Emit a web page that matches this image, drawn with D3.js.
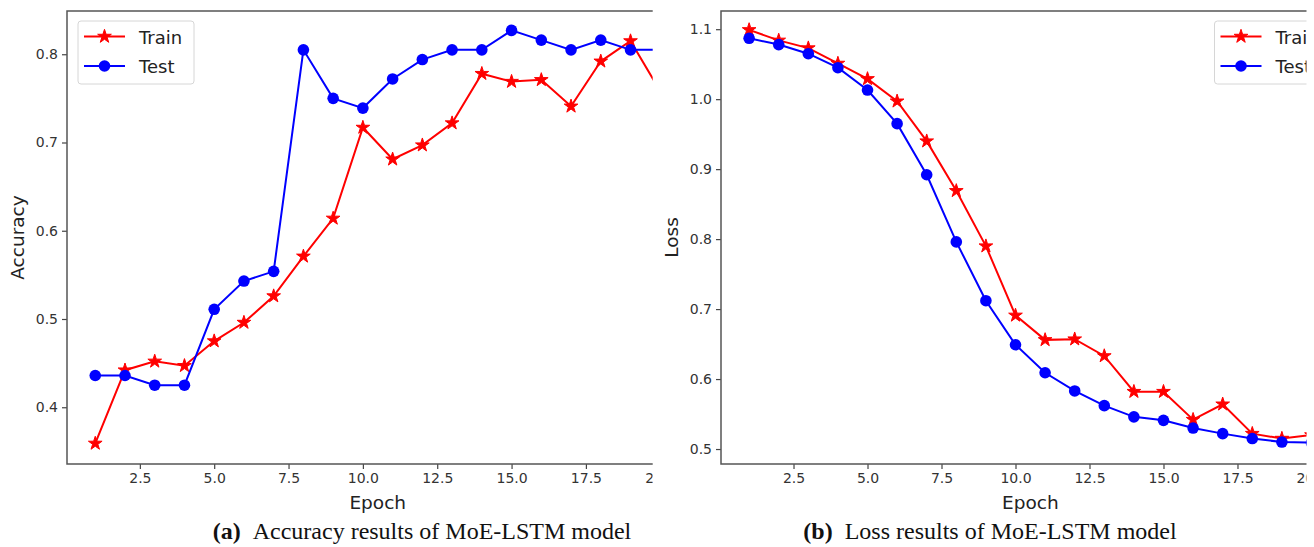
<!DOCTYPE html>
<html>
<head>
<meta charset="utf-8">
<script src="https://cdn.jsdelivr.net/npm/d3@7"></script>
<style>
  body { margin: 0; background: #fff; }
  svg { display: block; }
  .tick text { font-family: "DejaVu Sans", sans-serif; font-size: 14px; fill: #333; }
  .axisLabel { font-family: "DejaVu Sans", sans-serif; font-size: 18.5px; fill: #222; }
  .legendText { font-family: "DejaVu Sans", sans-serif; font-size: 18px; fill: #222; }
  .caption { font-family: "Liberation Serif", "Times New Roman", serif; font-size: 24px; fill: #111; }
</style>
</head>
<body>
<div id="chart"></div>
<script>
var svgWidth = 1314;
var svgHeight = 547;

// data
var epochs = [1, 2, 3, 4, 5, 6, 7, 8, 9, 10, 11, 12, 13, 14, 15, 16, 17, 18, 19, 20];
var accTrain = [0.359, 0.442, 0.452, 0.447, 0.475, 0.496, 0.526, 0.571, 0.614, 0.717,
                0.681, 0.697, 0.722, 0.778, 0.769, 0.771, 0.741, 0.792, 0.815, 0.758];
var accTest = [0.436, 0.436, 0.425, 0.425, 0.511, 0.543, 0.554, 0.805, 0.750, 0.739,
               0.772, 0.794, 0.805, 0.805, 0.827, 0.816, 0.805, 0.816, 0.805, 0.805];
var lossTrain = [1.099, 1.084, 1.073, 1.051, 1.029, 0.997, 0.940, 0.869, 0.790, 0.691,
                 0.656, 0.657, 0.633, 0.582, 0.582, 0.542, 0.564, 0.522, 0.515, 0.520];
var lossTest = [1.087, 1.078, 1.065, 1.045, 1.013, 0.965, 0.892, 0.796, 0.712, 0.649,
                0.609, 0.583, 0.562, 0.546, 0.541, 0.530, 0.522, 0.515, 0.510, 0.509];

var xTicks = [2.5, 5, 7.5, 10, 12.5, 15, 17.5, 20];
var accTicks = [0.4, 0.5, 0.6, 0.7, 0.8];
var lossTicks = [0.5, 0.6, 0.7, 0.8, 0.9, 1.0, 1.1];
var seriesNames = ["Train", "Test"];

var svg = d3.select("#chart")
    .append("svg")
    .attr("width", svgWidth)
    .attr("height", svgHeight);

var defs = svg.append("defs");

function drawPanel(cfg) {
    // each sub-figure is a cropped screenshot, so clip on the right
    defs.append("clipPath")
        .attr("id", cfg.id)
        .append("rect")
        .attr("x", 0).attr("y", 0)
        .attr("width", cfg.clipRight).attr("height", svgHeight);

    var g = svg.append("g").attr("clip-path", `url(#${cfg.id})`);

    var x = d3.scaleLinear()
        .domain([0.05, 20.95])
        .range([cfg.left, cfg.right]);
    var y = d3.scaleLinear()
        .domain(cfg.yDomain)
        .range([cfg.bottom, cfg.top]);

    // axes
    var xAxis = g.append("g")
        .attr("transform", `translate(0, ${cfg.bottom})`)
        .call(d3.axisBottom(x).tickValues(xTicks).tickFormat(d3.format(".1f")).tickSize(5).tickPadding(4).tickSizeOuter(0));
    var yAxis = g.append("g")
        .attr("transform", `translate(${cfg.left}, 0)`)
        .call(d3.axisLeft(y).tickValues(cfg.yTicks).tickFormat(d3.format(".1f")).tickSize(5).tickPadding(4).tickSizeOuter(0));
    [xAxis, yAxis].forEach(a => {
        a.select(".domain").remove();
        a.selectAll(".tick line").attr("stroke", "#444").attr("stroke-width", 1.2);
    });

    // frame
    g.append("rect")
        .attr("x", cfg.left).attr("y", cfg.top)
        .attr("width", cfg.right - cfg.left).attr("height", cfg.bottom - cfg.top)
        .attr("fill", "none").attr("stroke", "#555").attr("stroke-width", 1.5);

    var line = d3.line()
        .x((d, i) => x(epochs[i]))
        .y(d => y(d));

    var starSym = d3.symbol().type(d3.symbolStar).size(58);

    // train
    g.append("path")
        .datum(cfg.train)
        .attr("d", line)
        .attr("fill", "none").attr("stroke", "red").attr("stroke-width", 2);
    g.selectAll(".star")
        .data(cfg.train)
        .enter()
        .append("path")
        .attr("class", "star")
        .attr("transform", (d, i) => `translate(${x(epochs[i])}, ${y(d)})`)
        .attr("d", starSym)
        .attr("fill", "red").attr("stroke", "red").attr("stroke-width", 1);

    // test
    g.append("path")
        .datum(cfg.test)
        .attr("d", line)
        .attr("fill", "none").attr("stroke", "blue").attr("stroke-width", 2);
    g.selectAll(".dot")
        .data(cfg.test)
        .enter()
        .append("circle")
        .attr("class", "dot")
        .attr("cx", (d, i) => x(epochs[i]))
        .attr("cy", d => y(d))
        .attr("r", 5.8)
        .attr("fill", "blue");

    // labels
    g.append("text")
        .attr("class", "axisLabel")
        .attr("text-anchor", "middle")
        .attr("x", cfg.left + (cfg.right - cfg.left) / 2)
        .attr("y", 509)
        .text("Epoch");
    g.append("text")
        .attr("class", "axisLabel")
        .attr("text-anchor", "middle")
        .attr("transform", `translate(${cfg.left - 43}, ${(cfg.top + cfg.bottom) / 2}) rotate(-90)`)
        .text(cfg.yLabel);

    // legend
    var lg = g.append("g").attr("transform", `translate(${cfg.legendX}, 21)`);
    lg.append("rect")
        .attr("width", 116).attr("height", 63)
        .attr("rx", 3)
        .attr("fill", "white").attr("fill-opacity", 0.8)
        .attr("stroke", "#d6d6d6").attr("stroke-width", 1);
    seriesNames.forEach((name, i) => {
        var ly = 15.5 + i * 29.5;
        lg.append("line")
            .attr("x1", 6).attr("x2", 47).attr("y1", ly).attr("y2", ly)
            .attr("stroke", i === 0 ? "red" : "blue").attr("stroke-width", 2);
        if (i === 0) {
            lg.append("path")
                .attr("transform", `translate(26.5, ${ly})`)
                .attr("d", starSym)
                .attr("fill", "red").attr("stroke", "red");
        } else {
            lg.append("circle")
                .attr("cx", 26.5).attr("cy", ly).attr("r", 5.8)
                .attr("fill", "blue");
        }
        lg.append("text")
            .attr("class", "legendText")
            .attr("x", 61).attr("y", ly + 7)
            .text(name);
    });

    // caption
    var cap = svg.append("text")
        .attr("class", "caption")
        .attr("text-anchor", "middle")
        .attr("x", cfg.captionX)
        .attr("y", 539);
    cap.append("tspan").attr("font-weight", "bold").text(cfg.captionTag);
    cap.append("tspan").text("\u2002" + cfg.captionText);
}

drawPanel({
    id: "clipA",
    left: 67, right: 688.5, top: 11, bottom: 464,
    clipRight: 652.7,
    yDomain: [0.3357, 0.849],
    yTicks: accTicks,
    yLabel: "Accuracy",
    train: accTrain, test: accTest,
    legendX: 78,
    captionX: 422,
    captionTag: "(a)",
    captionText: "Accuracy results of MoE-LSTM model"
});

drawPanel({
    id: "clipB",
    left: 721, right: 1339.6, top: 11, bottom: 464,
    clipRight: 1306.5,
    yDomain: [0.4786, 1.126],
    yTicks: lossTicks,
    yLabel: "Loss",
    train: lossTrain, test: lossTest,
    legendX: 1214.5,
    captionX: 990,
    captionTag: "(b)",
    captionText: "Loss results of MoE-LSTM model"
});
</script>
</body>
</html>
